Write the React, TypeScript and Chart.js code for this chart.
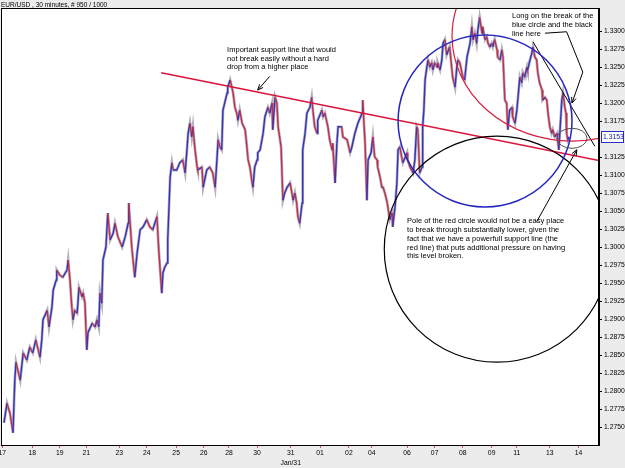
import React, { useEffect, useRef } from 'react';
import { Chart, registerables } from 'chart.js';

Chart.register(...registerables);

// ---- Data (bar index along the 1000-bar window, close price) ----
const barIndex = [
  5, 10, 15, 20, 23, 25, 32, 37, 43, 48,
  53, 58, 65, 68, 70, 77, 80, 85, 87, 92,
  93, 98, 103, 110, 112, 115, 118, 120, 123, 127,
  130, 135, 137, 140, 143, 145, 152, 157, 160, 163,
  165, 168, 170, 175, 178, 182, 187, 190, 195, 202,
  207, 212, 213, 218, 223, 227, 232, 237, 243, 248,
  253, 260, 263, 268, 270, 273, 277, 278, 282, 285,
  287, 293, 298, 303, 307, 310, 312, 315, 318, 320,
  323, 327, 328, 335, 337, 343, 348, 353, 357, 360,
  362, 365, 368, 370, 377, 378, 382, 387, 390, 393,
  395, 398, 402, 407, 410, 412, 415, 418, 420, 423,
  427, 428, 432, 437, 440, 445, 448, 452, 453, 457,
  460, 462, 467, 470, 473, 477, 482, 485, 487, 490,
  493, 495, 498, 502, 503, 507, 510, 515, 518, 520,
  523, 527, 528, 535, 537, 540, 545, 548, 552, 553,
  557, 560, 562, 568, 570, 577, 582, 585, 590, 595,
  602, 603, 607, 610, 612, 617, 620, 623, 627, 628,
  632, 635, 637, 640, 643, 645, 648, 652, 653, 657,
  660, 662, 665, 668, 670, 677, 678, 682, 687, 690,
  693, 695, 698, 702, 703, 705, 707, 710, 712, 715,
  718, 720, 723, 727, 728, 732, 735, 737, 740, 743,
  748, 753, 757, 760, 762, 765, 770, 773, 777, 782,
  785, 787, 790, 793, 795, 798, 802, 803, 807, 810,
  812, 815, 818, 820, 823, 827, 828, 832, 835, 837,
  840, 843, 845, 848, 852, 853, 857, 860, 862, 865,
  868, 870, 873, 877, 878, 882, 885, 887, 890, 893,
  895, 898, 902, 903, 907, 910, 912, 915, 918, 920,
  923, 927, 928, 930, 933, 935, 937, 940, 942, 943,
  945, 947,
];

const closePrice = [
  1.2756, 1.2783, 1.2769, 1.2742, 1.2815, 1.2840, 1.2815, 1.2853, 1.2843, 1.2861,
  1.2853, 1.2871, 1.2847, 1.2871, 1.2899, 1.2912, 1.2889, 1.2917, 1.2940, 1.2954,
  1.2968, 1.2961, 1.2958, 1.2968, 1.2982, 1.2954, 1.2917, 1.2899, 1.2912, 1.2908,
  1.2944, 1.2931, 1.2936, 1.2922, 1.2857, 1.2881, 1.2894, 1.2889, 1.2899, 1.2889,
  1.2936, 1.2922, 1.2982, 1.3000, 1.3047, 1.3010, 1.3019, 1.3033, 1.3014, 1.3000,
  1.3014, 1.3033, 1.3061, 1.3000, 1.2958, 1.2992, 1.3024, 1.3028, 1.3038, 1.3028,
  1.3024, 1.3042, 1.2996, 1.2936, 1.2964, 1.2972, 1.2978, 1.3010, 1.3097, 1.3117,
  1.3107, 1.3107, 1.3117, 1.3121, 1.3103, 1.3135, 1.3158, 1.3172, 1.3153, 1.3167,
  1.3139, 1.3111, 1.3107, 1.3111, 1.3083, 1.3107, 1.3111, 1.3103, 1.3083, 1.3121,
  1.3149, 1.3139, 1.3135, 1.3190, 1.3214, 1.3222, 1.3232, 1.3214, 1.3194, 1.3186,
  1.3176, 1.3190, 1.3172, 1.3163, 1.3139, 1.3121, 1.3111, 1.3093, 1.3083, 1.3111,
  1.3121, 1.3131, 1.3135, 1.3158, 1.3181, 1.3194, 1.3186, 1.3200, 1.3163, 1.3208,
  1.3200, 1.3167, 1.3139, 1.3065, 1.3075, 1.3083, 1.3089, 1.3075, 1.3065, 1.3075,
  1.3061, 1.3042, 1.3033, 1.3061, 1.3135, 1.3158, 1.3186, 1.3194, 1.3208, 1.3190,
  1.3167, 1.3158, 1.3176, 1.3190, 1.3181, 1.3186, 1.3167, 1.3149, 1.3135, 1.3144,
  1.3089, 1.3144, 1.3167, 1.3167, 1.3153, 1.3149, 1.3131, 1.3139, 1.3158, 1.3172,
  1.3186, 1.3204, 1.3144, 1.3065, 1.3121, 1.3131, 1.3153, 1.3125, 1.3121, 1.3111,
  1.3097, 1.3083, 1.3083, 1.3075, 1.3065, 1.3056, 1.3038, 1.3047, 1.3028, 1.3056,
  1.3089, 1.3135, 1.3139, 1.3125, 1.3117, 1.3131, 1.3121, 1.3111, 1.3103, 1.3121,
  1.3167, 1.3163, 1.3103, 1.3111, 1.3167, 1.3190, 1.3232, 1.3250, 1.3260, 1.3250,
  1.3256, 1.3246, 1.3256, 1.3250, 1.3256, 1.3246, 1.3260, 1.3283, 1.3288, 1.3267,
  1.3278, 1.3236, 1.3222, 1.3250, 1.3260, 1.3256, 1.3236, 1.3232, 1.3264, 1.3283,
  1.3306, 1.3288, 1.3297, 1.3283, 1.3301, 1.3319, 1.3297, 1.3306, 1.3288, 1.3292,
  1.3283, 1.3278, 1.3283, 1.3278, 1.3288, 1.3274, 1.3264, 1.3260, 1.3274, 1.3264,
  1.3204, 1.3200, 1.3163, 1.3190, 1.3194, 1.3181, 1.3172, 1.3190, 1.3208, 1.3236,
  1.3228, 1.3242, 1.3236, 1.3250, 1.3246, 1.3260, 1.3269, 1.3278, 1.3264, 1.3260,
  1.3242, 1.3228, 1.3218, 1.3204, 1.3208, 1.3204, 1.3186, 1.3167, 1.3158, 1.3163,
  1.3153, 1.3158, 1.3149, 1.3135, 1.3176, 1.3204, 1.3214, 1.3194, 1.3186, 1.3158,
  1.3149, 1.3153,
];

// x-axis day ticks
const dayTickIndex = [2, 52, 98, 142, 197, 243, 292, 338, 380, 427, 483, 532, 580, 618, 677, 723, 770, 818, 860, 915, 963];
const dayTickLabels = ['17', '18', '19', '21', '23', '24', '25', '26', '28', '30', '31', '01', '02', '04', '06', '07', '08', '09', '11', '13', '14'];
const dayTickSubLabels = ['', '', '', '', '', '', '', '', '', '', 'Jan/31', '', '', '', '', '', '', '', '', '', ''];

// y-axis price ticks
const priceTicks = [
  1.2750, 1.2775, 1.2800, 1.2825, 1.2850, 1.2875, 1.2900, 1.2925, 1.2950, 1.2975, 1.3000, 1.3025,
  1.3050, 1.3075, 1.3100, 1.3125, 1.3175, 1.3200, 1.3225, 1.3250, 1.3275, 1.3300,
];

const X_MAX = 997;
const Y_MIN = 1.2725;
const Y_MAX = 1.3332;

const chartTitle = 'EUR/USD , 30 minutes, # 950 / 1000';

// drawn objects (bar index / price)
const supportLineX = [267, 997];
const supportLineY = [1.3242, 1.3120];
const breakLineX = [887, 990];
const breakLineY = [1.3285, 1.3140];

const blueCircle = { cx: 807, cy: 1.3175, rx: 145, ry: 0.01194 };
const blackCircle = { cx: 827, cy: 1.2997, rx: 188, ry: 0.01569 };
const redCircle = { cx: 952, cy: 1.3293, rx: 200, ry: 0.01458 };
const smallEllipse = { cx: 952, cy: 1.3151, rx: 25, ry: 0.00139 };

const arrow1X = [448, 428];
const arrow1Y = [1.3237, 1.3218];
const arrow2X = [907, 943, 970, 952];
const arrow2Y = [1.3297, 1.3299, 1.3243, 1.3200];
const arrow3X = [893, 960];
const arrow3Y = [1.3035, 1.3135];

const note1 = ['Important support line that would', 'not break easily without a hard', 'drop from a higher place'];
const note1At = { x: 377, y: 1.3274 };
const note2 = ['Long on the break of the', 'blue circle and the black', 'line here'];
const note2At = { x: 852, y: 1.3321 };
const note3 = [
  'Pole of the red circle would not be a easy place',
  'to break through substantially lower, given the',
  'fact that we have a powerfull support line (the',
  'red line) that puts additional pressure on having',
  'this level broken.',
];
const note3At = { x: 677, y: 1.3036 };

const FONT = "'Liberation Sans', Arial, sans-serif";

export default function App() {
  const ref = useRef<HTMLCanvasElement | null>(null);

  useEffect(() => {
    const canvas = ref.current;
    if (!canvas) return;
    document.body.style.margin = '0';

    const pricePts = barIndex.map((x, i) => ({ x, y: closePrice[i] }));
    const supportPts = supportLineX.map((x, i) => ({ x, y: supportLineY[i] }));
    const breakPts = breakLineX.map((x, i) => ({ x, y: breakLineY[i] }));
    const lastClose = closePrice[closePrice.length - 1];

    const bgPlugin = {
      id: 'bg',
      beforeDraw(chart: any) {
        const { ctx, chartArea: a } = chart;
        ctx.save();
        ctx.fillStyle = '#ececec';
        ctx.fillRect(0, 0, chart.width, chart.height);
        ctx.fillStyle = '#ffffff';
        ctx.fillRect(a.left, a.top, a.right - a.left, a.bottom - a.top);
        ctx.restore();
      },
      afterDraw(chart: any) {
        const { ctx, chartArea: a, scales } = chart;
        ctx.save();
        ctx.strokeStyle = '#000';
        ctx.lineWidth = 1;
        ctx.strokeRect(Math.round(a.left) + 0.5, Math.round(a.top) + 0.5, Math.round(a.right - a.left) - 1, Math.round(a.bottom - a.top));
        // title
        ctx.fillStyle = '#000';
        ctx.font = `6.5px ${FONT}`;
        ctx.textBaseline = 'alphabetic';
        ctx.textAlign = 'left';
        ctx.fillText(chartTitle, 1, 7);
        // current price label
        const py = scales.y.getPixelForValue(lastClose);
        const bx = a.right + 2;
        ctx.fillStyle = '#ffffff';
        ctx.fillRect(bx, py - 5.5, 623 - bx, 11);
        ctx.strokeStyle = '#2c2cc8';
        ctx.strokeRect(bx + 0.5, Math.round(py - 5.5) + 0.5, 623 - bx, 11);
        ctx.fillStyle = '#2020a0';
        ctx.font = `6.8px ${FONT}`;
        ctx.textBaseline = 'middle';
        ctx.fillText(lastClose.toFixed(4), bx + 2, py + 0.5);
        ctx.restore();
      },
    };

    const annotPlugin = {
      id: 'annot',
      afterDatasetsDraw(chart: any) {
        const { ctx, chartArea: a, scales } = chart;
        const xs = scales.x;
        const ys = scales.y;
        const px = (v: number) => xs.getPixelForValue(v);
        const py = (v: number) => ys.getPixelForValue(v);
        ctx.save();
        ctx.beginPath();
        ctx.rect(a.left, a.top, a.right - a.left, a.bottom - a.top);
        ctx.clip();

        const ell = (c: any, color: string, w: number) => {
          const cx = px(c.cx);
          const cy = py(c.cy);
          const rx = Math.abs(px(c.cx + c.rx) - cx);
          const ry = Math.abs(py(c.cy + c.ry) - cy);
          ctx.beginPath();
          ctx.ellipse(cx, cy, rx, ry, 0, 0, Math.PI * 2);
          ctx.strokeStyle = color;
          ctx.lineWidth = w;
          ctx.stroke();
        };
        ell(blackCircle, '#000000', 1.2);
        ell(redCircle, '#d81c40', 1.2);
        ell(blueCircle, '#2626c0', 1.5);
        ell(smallEllipse, '#505050', 1);

        const arrow = (xv: number[], yv: number[]) => {
          ctx.beginPath();
          xv.forEach((x, i) => {
            const X = px(x);
            const Y = py(yv[i]);
            if (i === 0) ctx.moveTo(X, Y);
            else ctx.lineTo(X, Y);
          });
          ctx.strokeStyle = '#000';
          ctx.lineWidth = 1;
          ctx.stroke();
          const n = xv.length;
          const x1 = px(xv[n - 1]);
          const y1 = py(yv[n - 1]);
          const x0 = px(xv[n - 2]);
          const y0 = py(yv[n - 2]);
          const ang = Math.atan2(y1 - y0, x1 - x0);
          const L = 6;
          ctx.beginPath();
          ctx.moveTo(x1 - L * Math.cos(ang - 0.4), y1 - L * Math.sin(ang - 0.4));
          ctx.lineTo(x1, y1);
          ctx.lineTo(x1 - L * Math.cos(ang + 0.4), y1 - L * Math.sin(ang + 0.4));
          ctx.stroke();
        };
        arrow(arrow1X, arrow1Y);
        arrow(arrow2X, arrow2Y);
        arrow(arrow3X, arrow3Y);

        const text = (lines: string[], at: any) => {
          ctx.fillStyle = '#000';
          ctx.font = `7.5px ${FONT}`;
          ctx.textAlign = 'left';
          ctx.textBaseline = 'middle';
          const X = px(at.x);
          const Y = py(at.y);
          lines.forEach((l, i) => ctx.fillText(l, X, Y + i * 8.8));
        };
        text(note1, note1At);
        text(note2, note2At);
        text(note3, note3At);
        ctx.restore();
      },
    };

    const chart = new Chart(canvas, {
      type: 'line',
      data: {
        datasets: [
          { data: supportPts, borderColor: '#dc143c', borderWidth: 1.5, pointRadius: 0, order: 1 } as any,
          { data: breakPts, borderColor: '#000000', borderWidth: 1, pointRadius: 0, order: 1 } as any,
          {
            data: pricePts,
            borderColor: '#3030b0',
            borderWidth: 1.4,
            pointRadius: 0,
            tension: 0,
            order: 3,
            segment: {
              borderColor: (c: any) => (c.p1.parsed.y >= c.p0.parsed.y ? '#3434b8' : '#c2304a'),
            },
          } as any,
          {
            data: pricePts,
            borderColor: 'rgba(50,30,70,0.35)',
            borderWidth: 2.8,
            pointRadius: 0,
            tension: 0,
            order: 4,
          } as any,
        ],
      },
      options: {
        animation: false,
        responsive: false,
        maintainAspectRatio: false,
        layout: { padding: { left: 1, top: 8, right: 0, bottom: 0 } },
        plugins: { legend: { display: false }, tooltip: { enabled: false }, title: { display: false } },
        scales: {
          x: {
            type: 'linear',
            min: 0,
            max: X_MAX,
            afterBuildTicks: (s: any) => {
              s.ticks = dayTickIndex.map((v) => ({ value: v }));
            },
            afterFit: (s: any) => {
              s.height = 23;
              s.paddingLeft = 0;
              s.paddingRight = 0;
            },
            ticks: {
              autoSkip: false,
              maxRotation: 0,
              minRotation: 0,
              padding: 1,
              color: '#000',
              font: { family: FONT, size: 6.8, lineHeight: 1.35 },
              callback: (_v: any, i: number) => (dayTickSubLabels[i] ? [dayTickLabels[i], dayTickSubLabels[i]] : dayTickLabels[i]),
            },
            grid: { drawOnChartArea: false, drawTicks: true, tickLength: 3, color: '#d05068' },
            border: { display: true, color: '#000' },
          } as any,
          y: {
            type: 'linear',
            position: 'right',
            min: Y_MIN,
            max: Y_MAX,
            afterBuildTicks: (s: any) => {
              s.ticks = priceTicks.map((v) => ({ value: v }));
            },
            afterFit: (s: any) => {
              s.width = 26;
              s.paddingTop = 0;
              s.paddingBottom = 0;
            },
            ticks: {
              padding: 2,
              color: '#000',
              font: { family: FONT, size: 6.8 },
              callback: (v: any) => Number(v).toFixed(4),
            },
            grid: { drawOnChartArea: false, drawTicks: true, tickLength: 3, color: '#000' },
            border: { display: true, color: '#000' },
          } as any,
        },
      },
      plugins: [bgPlugin, annotPlugin],
    });

    return () => chart.destroy();
  }, []);

  return (
    <div style={{ position: 'absolute', left: 0, top: 0, width: 625, height: 468 }}>
      <canvas ref={ref} width={625} height={468} style={{ display: 'block', width: 625, height: 468 }} />
    </div>
  );
}
